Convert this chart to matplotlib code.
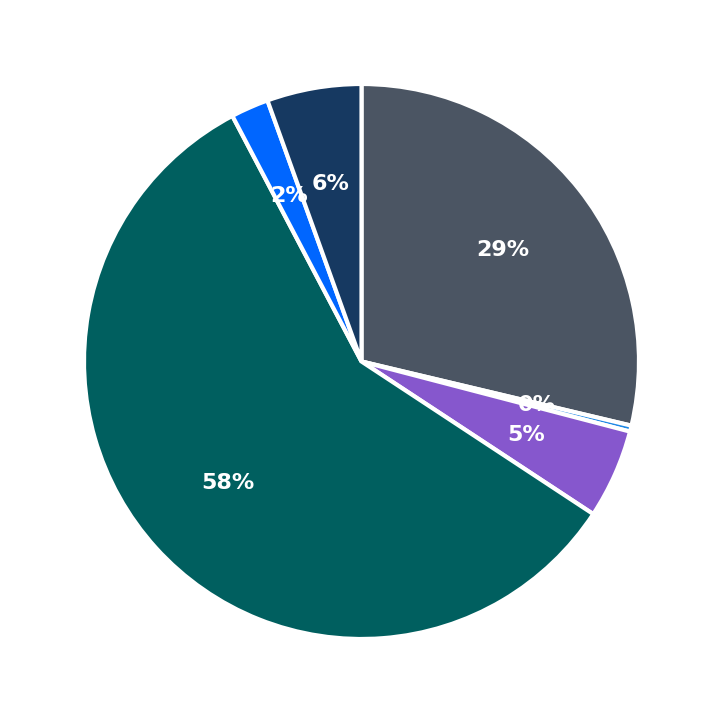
import matplotlib
matplotlib.use("Agg")
import matplotlib.pyplot as plt

# slice shares (percent), clockwise from 12 o'clock
labels = ["A", "B", "C", "D", "E", "F"]
values = [28.7, 0.35, 5.2, 58.0, 2.2, 5.5]
colors = ["#4b5563", "#1e88e5", "#8657cd", "#005f5f", "#0066ff", "#163961"]

fig = plt.figure(figsize=(7.23, 7.23), dpi=100)
ax = fig.add_axes([0, 0, 1, 1])

wedges, texts, autotexts = ax.pie(
    values,
    colors=colors,
    startangle=90,
    counterclock=False,
    autopct="%.0f%%",
    pctdistance=0.65,
    wedgeprops=dict(edgecolor="white", linewidth=3),
    textprops=dict(color="white", fontsize=16, fontweight="bold"),
)

lim = 361.5 / 277.5
ax.set_xlim(-lim, lim)
ax.set_ylim(-lim, lim)
ax.set_aspect("equal")
ax.axis("off")

fig.savefig("out.png", dpi=100, facecolor="white")
